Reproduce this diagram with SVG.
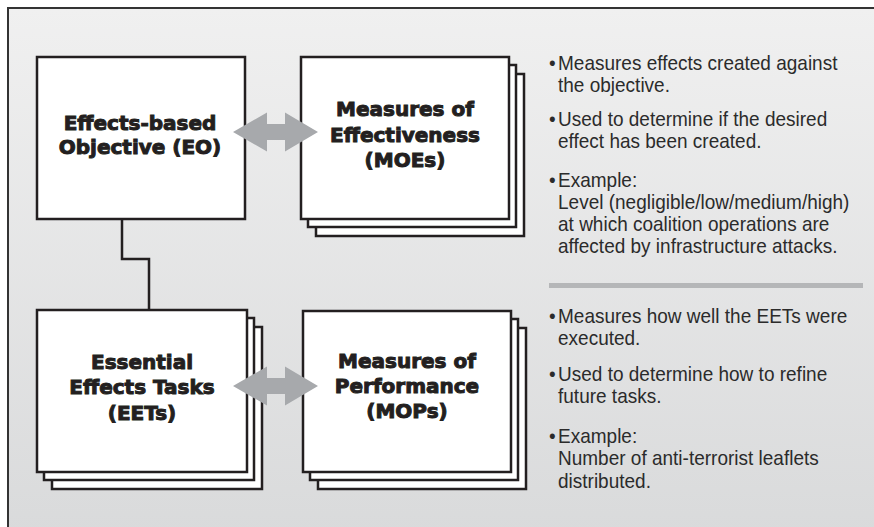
<svg xmlns="http://www.w3.org/2000/svg" width="874" height="527" viewBox="0 0 874 527">
<defs>
<linearGradient id="bg" x1="0" y1="0" x2="0" y2="1">
<stop offset="0" stop-color="#f0f0f0"/>
<stop offset="1" stop-color="#d9dadb"/>
</linearGradient>
</defs>
<style>
.box{fill:#fff;stroke:#231f20;stroke-width:2.5}
.lbl{font-family:"DejaVu Sans",sans-serif;font-weight:bold;font-size:20px;fill:#231f20;stroke:#231f20;stroke-width:1;text-anchor:middle}
.arr{fill:#a7a9ac}
.conn{fill:none;stroke:#231f20;stroke-width:2.5}
.txt{font-family:"Liberation Sans",Arial,sans-serif;font-size:20px;fill:#2b2b2b}
</style>
<rect x="0" y="0" width="874" height="527" fill="#fff"/>
<rect x="8" y="8" width="880" height="530" fill="url(#bg)"/>
<path d="M8,527 V8 H874" fill="none" stroke="#333" stroke-width="2"/>

<g id="connectors">
<path class="conn" d="M122,219 V259 H149 V310"/>
</g>

<g id="eo">
<rect class="box" x="37" y="57" width="208" height="162"/>
<text class="lbl" x="140" y="130">Effects-based</text>
<text class="lbl" x="140" y="154">Objective (EO)</text>
</g>

<g id="moe">
<rect class="box" x="316" y="74" width="208" height="162"/>
<rect class="box" x="308" y="65" width="208" height="162"/>
<rect class="box" x="301" y="57" width="208" height="162"/>
<text class="lbl" x="405" y="116">Measures of</text>
<text class="lbl" x="405" y="142">Effectiveness</text>
<text class="lbl" x="405" y="167">(MOEs)</text>
</g>

<g id="eet">
<rect class="box" x="52" y="327" width="210" height="162"/>
<rect class="box" x="44" y="318" width="210" height="162"/>
<rect class="box" x="37" y="310" width="210" height="162"/>
<text class="lbl" x="142" y="369">Essential</text>
<text class="lbl" x="142" y="394">Effects Tasks</text>
<text class="lbl" x="142" y="420">(EETs)</text>
</g>

<g id="mop">
<rect class="box" x="318" y="328" width="208" height="161"/>
<rect class="box" x="310" y="319" width="208" height="161"/>
<rect class="box" x="303" y="311" width="208" height="161"/>
<text class="lbl" x="407" y="368">Measures of</text>
<text class="lbl" x="407" y="393">Performance</text>
<text class="lbl" x="407" y="418">(MOPs)</text>
</g>

<g id="arrow-top">
<polygon class="arr" points="233,132 267,112.5 267,124 285,124 285,112.5 318,132 285,151.5 285,140 267,140 267,151.5"/>
</g>
<g id="arrow-bottom">
<polygon class="arr" points="233,386 267,366.5 267,378 285,378 285,366.5 318,386 285,405.5 285,394 267,394 267,405.5"/>
</g>

<g id="notes-moe" class="txt" transform="scale(0.95,1)">
<text x="577.9" y="70">•</text>
<text x="587.4" y="70">Measures effects created against</text>
<text x="587.4" y="92">the objective.</text>
<text x="577.9" y="126">•</text>
<text x="587.4" y="126">Used to determine if the desired</text>
<text x="587.4" y="148">effect has been created.</text>
<text x="577.9" y="187">•</text>
<text x="587.4" y="187">Example:</text>
<text x="587.4" y="209">Level (negligible/low/medium/high)</text>
<text x="587.4" y="231">at which coalition operations are</text>
<text x="587.4" y="253">affected by infrastructure attacks.</text>
</g>

<line x1="549" y1="285.5" x2="863" y2="285.5" stroke="#b5b6b8" stroke-width="5"/>

<g id="notes-mop" class="txt" transform="scale(0.95,1)">
<text x="577.9" y="323">•</text>
<text x="587.4" y="323">Measures how well the EETs were</text>
<text x="587.4" y="345">executed.</text>
<text x="577.9" y="381">•</text>
<text x="587.4" y="381">Used to determine how to refine</text>
<text x="587.4" y="403">future tasks.</text>
<text x="577.9" y="443">•</text>
<text x="587.4" y="443">Example:</text>
<text x="587.4" y="465">Number of anti-terrorist leaflets</text>
<text x="587.4" y="488">distributed.</text>
</g>
</svg>
